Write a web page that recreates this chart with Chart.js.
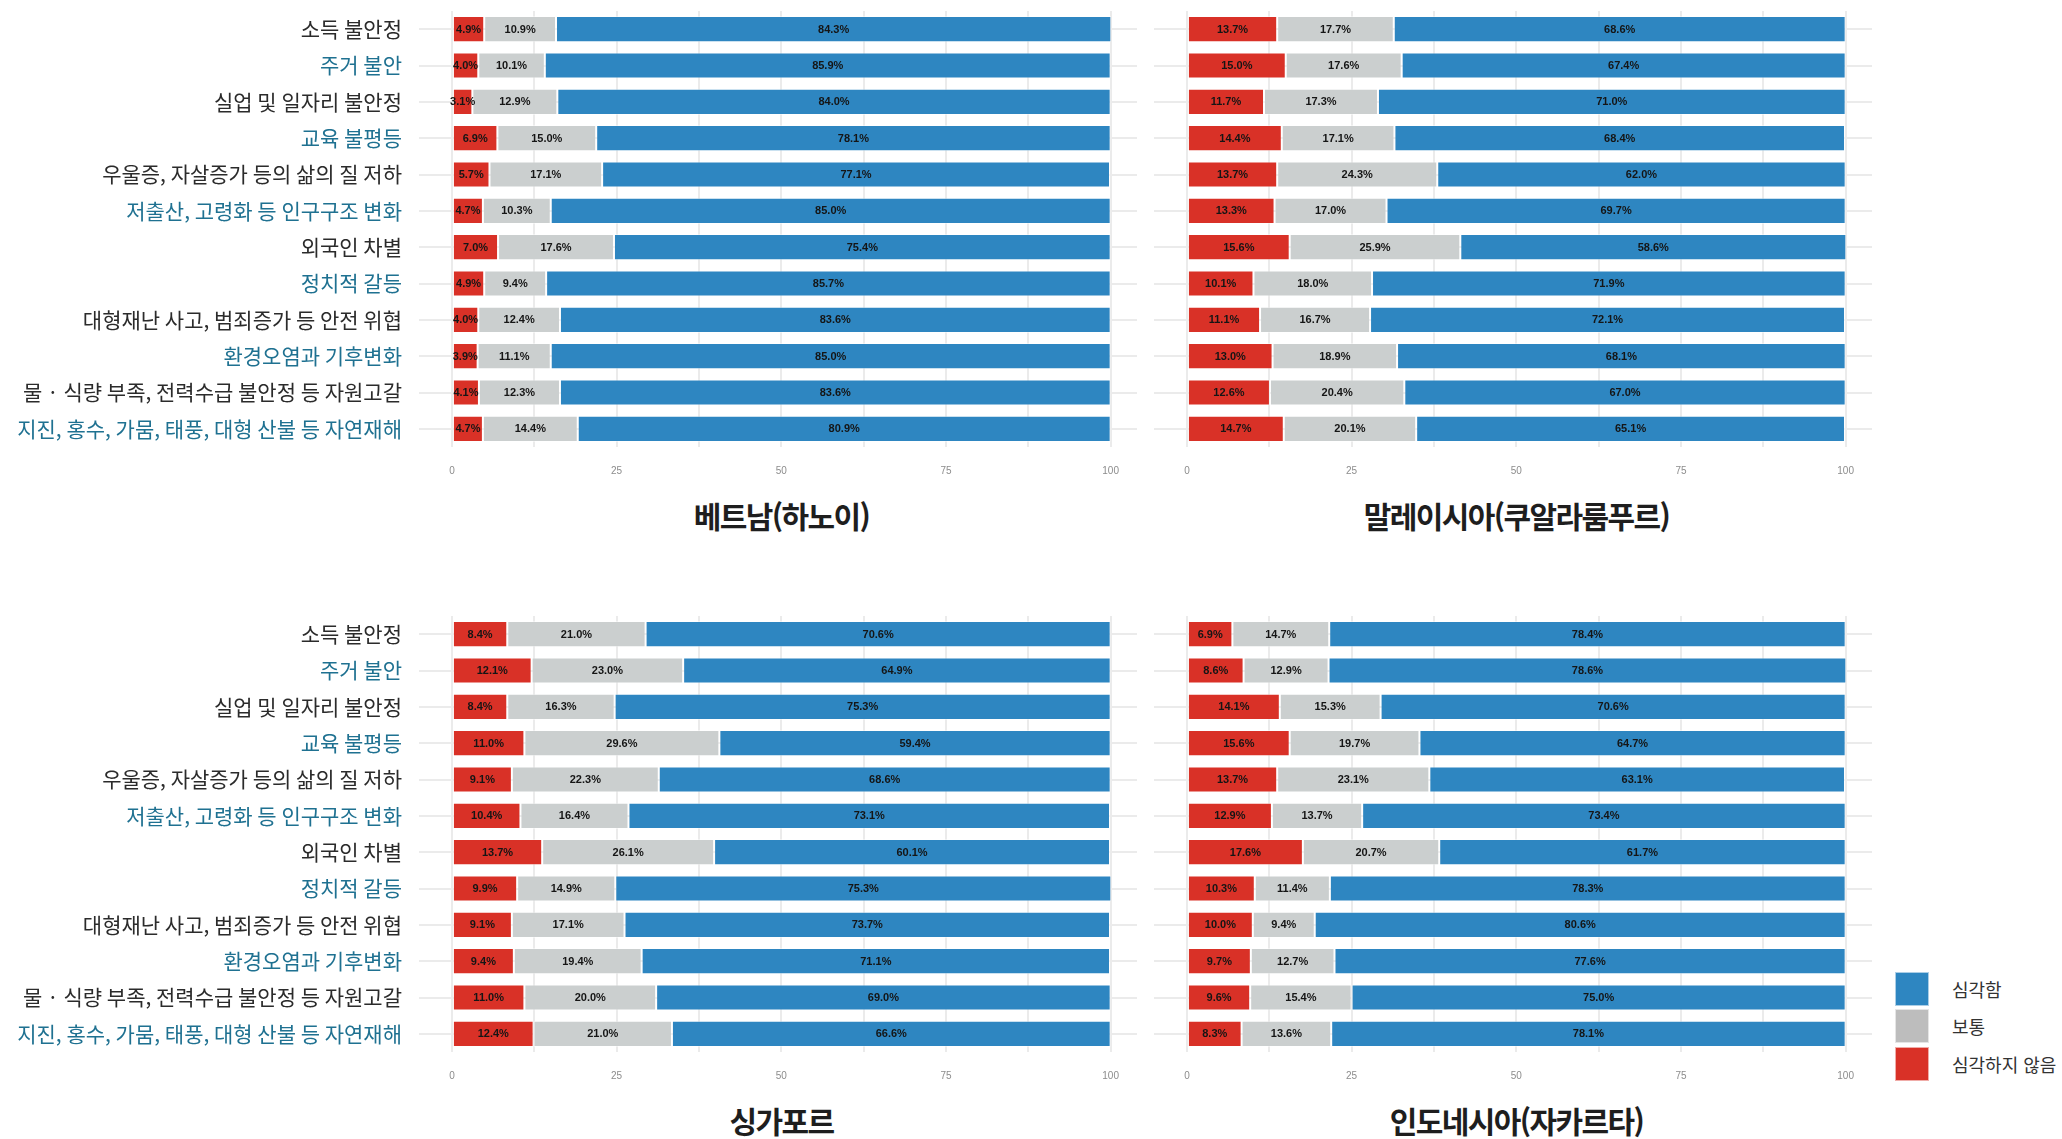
<!DOCTYPE html>
<html lang="ko">
<head>
<meta charset="utf-8">
<script src="https://cdn.jsdelivr.net/npm/chart.js@4/dist/chart.umd.min.js"></script>
<style>
  body { margin: 0; background: #fff; width: 2062px; height: 1139px; overflow: hidden; position: relative;
         font-family: "Noto Sans CJK KR", "Noto Sans", sans-serif; }
  canvas { position: absolute; }
  .titulo { position: absolute; text-align: center; font-weight: 700; font-size: 30px; color: #1e1e1e;
            line-height: 32px; letter-spacing: -1.6px; }
  .legenda { position: absolute; left: 1895px; top: 970px; }
  .legenda div { height: 37.5px; display: flex; align-items: center; font-size: 18px; color: #333; }
  .legenda span { display: inline-block; width: 34px; height: 34px; margin-right: 23px; box-sizing: border-box;
                  border: 1px solid rgba(255,255,255,0.6); }
</style>
</head>
<body>
<canvas id="gVietna" width="1137" height="480" style="left:0;top:0"></canvas>
<canvas id="gMalasia" width="718" height="480" style="left:1154px;top:0"></canvas>
<canvas id="gSingapura" width="1137" height="480" style="left:0;top:605px"></canvas>
<canvas id="gIndonesia" width="718" height="480" style="left:1154px;top:605px"></canvas>

<div class="titulo" style="left:452px;width:659px;top:499px">베트남(하노이)</div>
<div class="titulo" style="left:1187px;width:659px;top:499px">말레이시아(쿠알라룸푸르)</div>
<div class="titulo" style="left:452px;width:659px;top:1104px">싱가포르</div>
<div class="titulo" style="left:1187px;width:659px;top:1104px">인도네시아(자카르타)</div>

<div class="legenda">
  <div><span style="background:#2e86c1"></span>심각함</div>
  <div><span style="background:#bdbdbd"></span>보통</div>
  <div><span style="background:#d93127"></span>심각하지 않음</div>
</div>

<script>
const categorias = [
  '소득 불안정', '주거 불안', '실업 및 일자리 불안정', '교육 불평등',
  '우울증, 자살증가 등의 삶의 질 저하', '저출산, 고령화 등 인구구조 변화', '외국인 차별', '정치적 갈등',
  '대형재난 사고, 범죄증가 등 안전 위협', '환경오염과 기후변화',
  '물 · 식량 부족, 전력수급 불안정 등 자원고갈', '지진, 홍수, 가뭄, 태풍, 대형 산불 등 자연재해'
];
const ticksX = [0, 12.5, 25, 37.5, 50, 62.5, 75, 87.5, 100];

// 심각하지 않음 / 보통 / 심각함
const vietnaNao = [4.9, 4.0, 3.1, 6.9, 5.7, 4.7, 7.0, 4.9, 4.0, 3.9, 4.1, 4.7];
const vietnaNormal = [10.9, 10.1, 12.9, 15.0, 17.1, 10.3, 17.6, 9.4, 12.4, 11.1, 12.3, 14.4];
const vietnaSerio = [84.3, 85.9, 84.0, 78.1, 77.1, 85.0, 75.4, 85.7, 83.6, 85.0, 83.6, 80.9];

const malasiaNao = [13.7, 15.0, 11.7, 14.4, 13.7, 13.3, 15.6, 10.1, 11.1, 13.0, 12.6, 14.7];
const malasiaNormal = [17.7, 17.6, 17.3, 17.1, 24.3, 17.0, 25.9, 18.0, 16.7, 18.9, 20.4, 20.1];
const malasiaSerio = [68.6, 67.4, 71.0, 68.4, 62.0, 69.7, 58.6, 71.9, 72.1, 68.1, 67.0, 65.1];

const singapuraNao = [8.4, 12.1, 8.4, 11.0, 9.1, 10.4, 13.7, 9.9, 9.1, 9.4, 11.0, 12.4];
const singapuraNormal = [21.0, 23.0, 16.3, 29.6, 22.3, 16.4, 26.1, 14.9, 17.1, 19.4, 20.0, 21.0];
const singapuraSerio = [70.6, 64.9, 75.3, 59.4, 68.6, 73.1, 60.1, 75.3, 73.7, 71.1, 69.0, 66.6];

const indonesiaNao = [6.9, 8.6, 14.1, 15.6, 13.7, 12.9, 17.6, 10.3, 10.0, 9.7, 9.6, 8.3];
const indonesiaNormal = [14.7, 12.9, 15.3, 19.7, 23.1, 13.7, 20.7, 11.4, 9.4, 12.7, 15.4, 13.6];
const indonesiaSerio = [78.4, 78.6, 70.6, 64.7, 63.1, 73.4, 61.7, 78.3, 80.6, 77.6, 75.0, 78.1];

const rotulosBarras = {
  id: 'rotulosBarras',
  afterDatasetsDraw(chart) {
    const ctx = chart.ctx;
    ctx.save();
    ctx.font = 'bold 11px "Liberation Sans Narrow", "Liberation Sans", sans-serif';
    ctx.fillStyle = '#151515';
    ctx.textAlign = 'center';
    ctx.textBaseline = 'middle';
    chart.data.datasets.forEach((ds, i) => {
      chart.getDatasetMeta(i).data.forEach((bar, j) => {
        const p = bar.getProps(['x', 'y', 'base'], true);
        ctx.fillText(ds.data[j].toFixed(1) + '%', (p.x + p.base) / 2, p.y + 0.5);
      });
    });
    ctx.restore();
  }
};

function criarGrafico(id, nao, normal, serio, comRotulos) {
  new Chart(document.getElementById(id), {
    type: 'bar',
    data: {
      labels: categorias,
      datasets: [
        { label: '심각하지 않음', data: nao, backgroundColor: '#d93127' },
        { label: '보통', data: normal, backgroundColor: '#cbcfcf' },
        { label: '심각함', data: serio, backgroundColor: '#2e86c1' }
      ].map(ds => Object.assign(ds, {
        borderColor: 'rgba(255,255,255,0.45)', borderWidth: 1, borderSkipped: false,
        categoryPercentage: 0.72, barPercentage: 1
      }))
    },
    options: {
      indexAxis: 'y',
      responsive: false,
      animation: false,
      devicePixelRatio: 1,
      layout: { padding: { top: 11, left: 0, right: 0, bottom: 0 } },
      plugins: { legend: { display: false }, tooltip: { enabled: false } },
      scales: {
        x: {
          stacked: true, min: -5, max: 104,
          afterBuildTicks: s => { s.ticks = ticksX.map(v => ({ value: v })); },
          afterFit: s => { s.height = 33; s.paddingLeft = 0; s.paddingRight = 0; },
          border: { display: false },
          grid: { color: '#ebebeb', lineWidth: 2, drawTicks: false },
          ticks: {
            padding: 18, color: '#8c8c8c', autoSkip: false, maxRotation: 0,
            font: { family: '"Liberation Sans Narrow", "Liberation Sans", sans-serif', size: 10 },
            callback: v => (v % 25 === 0 ? v : '')
          }
        },
        y: {
          stacked: true,
          afterFit: s => { s.width = comRotulos ? 419 : 0; s.paddingTop = 0; s.paddingBottom = 0; },
          border: { display: false },
          grid: { color: '#ebebeb', lineWidth: 2, offset: false, drawTicks: false },
          ticks: {
            display: comRotulos, padding: 17,
            color: c => (c.index % 2 === 1 ? '#1f7191' : '#2b2b2b'),
            font: { family: '"Noto Sans CJK KR", sans-serif', size: 21 }
          }
        }
      }
    },
    plugins: [rotulosBarras]
  });
}

criarGrafico('gVietna', vietnaNao, vietnaNormal, vietnaSerio, true);
criarGrafico('gMalasia', malasiaNao, malasiaNormal, malasiaSerio, false);
criarGrafico('gSingapura', singapuraNao, singapuraNormal, singapuraSerio, true);
criarGrafico('gIndonesia', indonesiaNao, indonesiaNormal, indonesiaSerio, false);
</script>
</body>
</html>
